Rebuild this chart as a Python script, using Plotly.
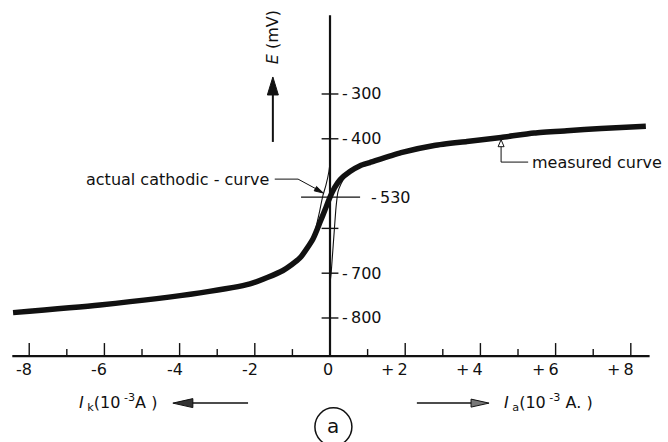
import math
import plotly.graph_objects as go

# ---------------- data ----------------
# measured polarisation curve: current I (10^-3 A), potential E (mV)
I_meas = [-8.43, -6.12, -3.46, -2.13, -1.25, -0.80, -0.45, -0.27, -0.13, 0.0, 0.13,
          0.27, 0.53, 0.80, 1.06, 1.89, 2.77, 3.64, 4.55, 5.43, 6.30, 7.21, 8.40]
E_meas = [-788, -771, -744, -724, -694, -666, -623, -587, -558, -530, -508,
          -491, -473, -460, -453, -431, -415, -406, -397, -387, -382, -377, -372]

# actual cathodic curve (thin)
I_cath = [0.0, 0.01, -0.03, -0.11, -0.19, -0.29, -0.42]
E_cath = [-418, -442, -473, -504, -527, -567, -615]

# actual anodic curve (thin)
I_anod = [0.0, 0.03, 0.06, 0.11, 0.16, 0.21, 0.29, 0.40, 0.53]
E_anod = [-722, -700, -666, -609, -553, -519, -501, -485, -474]

# axes ticks / labels
x_major = [-8, -6, -4, -2, 2, 4, 6, 8]
x_minor = [-7, -5, -3, -1, 1, 3, 5, 7]
x_label_vals = [-8, -6, -4, -2, 0, 2, 4, 6, 8]
x_label_text = ["-8", "-6", "-4", "-2", "0", "+\u20092", "+\u20094", "+\u20096", "+\u20098"]
y_tick_vals = [-300, -400, -600, -700, -800]
y_label_vals = [-300, -400, -700, -800]
y_label_text = ["-\u2009300", "-\u2009400", "-\u2009700", "-\u2009800"]
E_corr = -530
E_corr_text = "-\u2009530"

# ---------------- layout constants ----------------
W, H = 668, 442
X_RANGE = [-8.777, 8.989]
Y_RANGE = [-1076.8, -90.2]
SX = W / (X_RANGE[1] - X_RANGE[0])   # px per unit current
SY = H / (Y_RANGE[1] - Y_RANGE[0])   # px per mV
AX_E = -885          # potential where the current axis is drawn
AX_TOP = -124        # top end of potential axis
AX_L, AX_R = -8.45, 8.5
INK = "#111111"
FONT = dict(family="DejaVu Sans", size=16, color=INK)

fig = go.Figure()


def line(xs, ys, w=1.0, color=INK, shape="linear"):
    fig.add_trace(go.Scatter(x=xs, y=ys, mode="lines",
                             line=dict(color=color, width=w, shape=shape, smoothing=0.6),
                             hoverinfo="skip", showlegend=False))


def head(tx, ty, ux, uy, L, Wd, fill=INK, edge=INK, ew=1.0):
    n = math.hypot(ux, uy)
    ux, uy = ux / n, uy / n
    bx, by = -ux * L, -uy * L
    px_, py_ = -uy, ux
    pts = [(0, 0), (bx + px_ * Wd / 2, by + py_ * Wd / 2),
           (bx - px_ * Wd / 2, by - py_ * Wd / 2), (0, 0)]
    xs = [tx + p[0] / SX for p in pts]
    ys = [ty - p[1] / SY for p in pts]
    fig.add_trace(go.Scatter(x=xs, y=ys, mode="lines", fill="toself", fillcolor=fill,
                             line=dict(color=edge, width=ew), hoverinfo="skip",
                             showlegend=False))


# axes
line([AX_L, AX_R], [AX_E, AX_E], 2.2)
line([0, 0], [AX_E, AX_TOP], 2.2)

# x ticks (above the axis line)
tx, ty = [], []
for v in x_major:
    tx += [v, v, None]
    ty += [AX_E, AX_E + 13 / SY, None]
for v in x_minor:
    tx += [v, v, None]
    ty += [AX_E, AX_E + 7 / SY, None]
line(tx, ty, 1.4)

# y ticks (crossing the axis)
fig.add_trace(go.Scatter(x=[0] * len(y_tick_vals), y=y_tick_vals, mode="markers",
                         marker=dict(symbol="line-ew", size=12,
                                     line=dict(color=INK, width=1.4)),
                         hoverinfo="skip", showlegend=False))

# corrosion potential line
line([-0.77, 0.80], [E_corr, E_corr], 1.2)

# curves
line(I_cath, E_cath, 1.1, shape="spline")
line(I_anod, E_anod, 1.1, shape="spline")
line(I_meas, E_meas, 5.5, shape="spline")

annotations = []
for v, t in zip(x_label_vals, x_label_text):
    annotations.append(dict(x=v, y=-916, text=t, showarrow=False, xanchor="right",
                            yanchor="middle", xshift=5, font=FONT))
for v, t in zip(y_label_vals, y_label_text):
    annotations.append(dict(x=0.32, y=v, text=t, showarrow=False, xanchor="left",
                            yanchor="middle", xshift=-2, font=FONT))
annotations.append(dict(x=1.09, y=E_corr, text=E_corr_text, showarrow=False,
                        xanchor="left", yanchor="middle", xshift=-2, font=FONT))

# E (mV) label with arrow
annotations.append(dict(x=-1.54, y=-173, text="<i>E</i> (mV)", showarrow=False,
                        textangle=-90, xanchor="center", yanchor="middle", font=FONT))
line([-1.52, -1.52], [-407, -262 - 17 / SY], 2.0)
head(-1.52, -262, 0, -1, 18, 11)

# measured curve label
annotations.append(dict(x=5.32, y=-452, text="measured curve", showarrow=False,
                        xanchor="left", yanchor="middle", font=FONT))
line([5.27, 4.55, 4.55], [-452, -452, -417.6], 1.0)
head(4.55, -402, 0, -1, 7, 6, fill="white", edge=INK, ew=1.0)

# actual cathodic curve label
annotations.append(dict(x=-1.57, y=-490, text="actual cathodic - curve", showarrow=False,
                        xanchor="right", yanchor="middle", font=FONT))
line([-1.47, -0.85, -0.20], [-490, -490, -519.5], 1.0)
head(-0.18, -521, 0.67 * SX, 31 * SY, 9, 5)

# current axis labels + arrows
annotations.append(dict(x=-5.65, y=-988, text="<i>I</i><sub> k</sub>(10<sup> -3</sup>A )",
                        showarrow=False, xanchor="center", yanchor="middle", font=FONT))
line([-2.18, -4.18 + 18 / SX], [-990, -990], 1.5)
head(-4.18, -990, -1, 0, 20, 9, fill="#333333")

annotations.append(dict(x=5.82, y=-988, text="<i>I</i><sub> a</sub>(10<sup> -3</sup> A. )",
                        showarrow=False, xanchor="center", yanchor="middle", font=FONT))
line([2.31, 4.23 - 16 / SX], [-990, -990], 1.5)
head(4.23, -990, 1, 0, 18, 8, fill="#777777")

# circled (a)
annotations.append(dict(x=0.09, y=-1043, text="a", showarrow=False, xanchor="center",
                        yanchor="middle", yshift=1, font=dict(family="DejaVu Sans", size=20, color=INK)))
shapes = [dict(type="circle", xref="x", yref="y", xsizemode="pixel", ysizemode="pixel",
               xanchor=0.09, yanchor=-1043, x0=-18.5, x1=18.5, y0=-19, y1=19,
               line=dict(color=INK, width=1.5))]

fig.update_layout(
    width=W, height=H, autosize=False,
    margin=dict(l=0, r=0, t=0, b=0, pad=0),
    paper_bgcolor="white", plot_bgcolor="white",
    xaxis=dict(range=X_RANGE, visible=False, fixedrange=True),
    yaxis=dict(range=Y_RANGE, visible=False, fixedrange=True),
    annotations=annotations, shapes=shapes,
    hovermode=False, showlegend=False,
)

fig.write_html("out.html")
